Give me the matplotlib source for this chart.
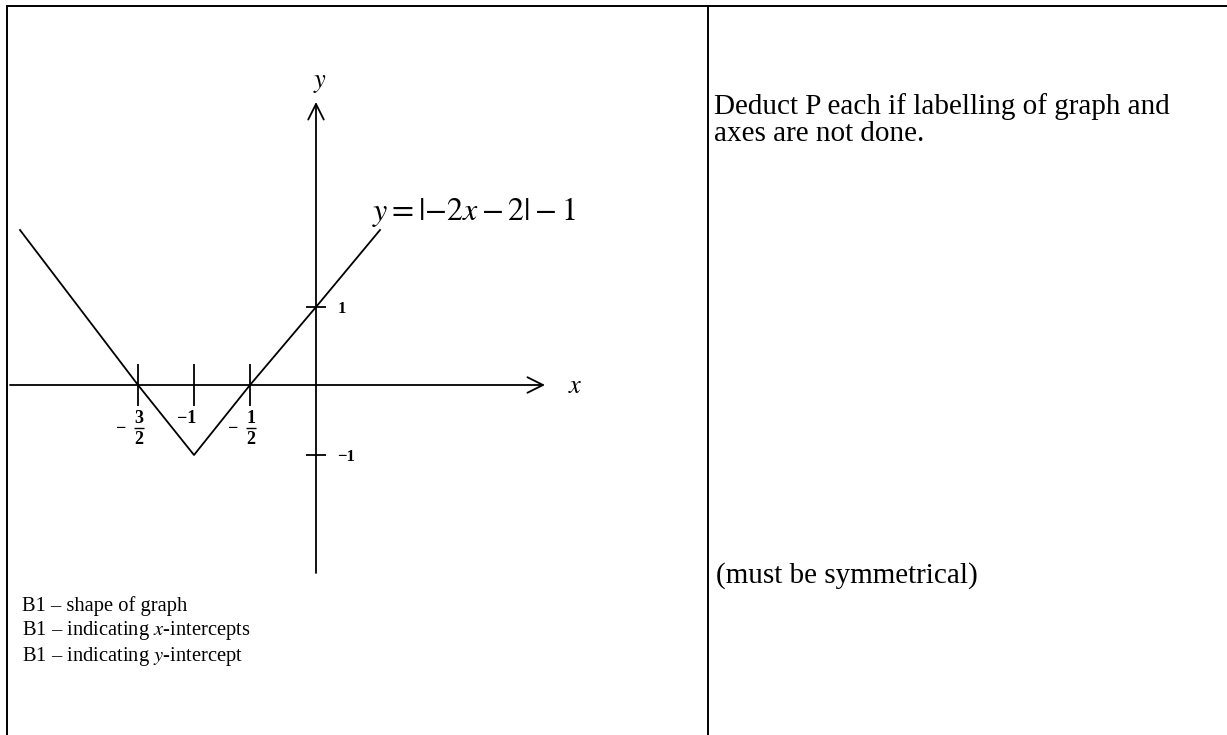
import numpy as np
import matplotlib
matplotlib.use("Agg")
import matplotlib.pyplot as plt
from matplotlib.transforms import offset_copy

plt.rcParams["font.family"] = ["Liberation Serif", "DejaVu Serif"]
plt.rcParams["mathtext.fontset"] = "stix"

# graph of y = |-2x - 2| - 1 (sketch, key points)
curve_x = [-2.5, -1.5, -1.0, -0.5, 0.0, 0.5]
curve_y = [2.0, 0.0, -1.0, 0.0, 1.0, 2.0]
x_ticks = [-1.5, -1.0, -0.5]
x_tick_labels = [("3", "2"), "\u22121", ("1", "2")]   # tuples are -num/den
y_ticks = [1.0, -1.0]
y_tick_labels = ["1", "\u22121"]
equation = r"$y = |{-2x} - 2| - 1$"

marks_left = ["B1 \u2013 shape of graph",
              "B1 \u2013 indicating $x$-intercepts",
              "B1 \u2013 indicating $y$-intercept"]
notes_right = ["Deduct P each if labelling of graph and",
               "axes are not done."]
note_sym = "(must be symmetrical)"

# the sketch is not drawn to scale: piecewise linear map from values to pixels
xk = [-50, -2.5, -1.5, -1.0, -0.5, 0.0, 0.5, 50]
xp = [20 - 47.5 * 118, 20, 138, 194, 250, 316, 380, 380 + 49.5 * 128]
yk = [-50, -1.0, 0.0, 1.0, 2.0, 50]
yp = [280 - 49 * 70, 280, 350, 428, 505, 505 + 48 * 77]


def fx(v):
    return np.interp(v, xk, xp)


def ix(p):
    return np.interp(p, xp, xk)


def fy(v):
    return np.interp(v, yk, yp)


def iy(p):
    return np.interp(p, yp, yk)


fig = plt.figure(figsize=(12.27, 7.35), dpi=100)

# table and text, pixel coordinates
bg = fig.add_axes([0, 0, 1, 1])
bg.set_xlim(0, 1227)
bg.set_ylim(735, 0)
bg.axis("off")
bg.plot([7, 1227], [6, 6], color="black", lw=1.4)
bg.plot([7, 7], [6, 735], color="black", lw=1.4)
bg.plot([708, 708], [6, 735], color="black", lw=1.4)

for i, s in enumerate(marks_left):
    bg.text(22, 606 + i * 25, s, fontsize=14.8, va="center", ha="left")
for i, s in enumerate(notes_right):
    bg.text(714, 107 + i * 27, s, fontsize=21, va="center", ha="left")
bg.text(716, 576, note_sym, fontsize=21, va="center", ha="left")

# graph
ax = fig.add_axes([0, 0, 1, 1])
ax.patch.set_visible(False)
ax.set_xscale("function", functions=(fx, ix))
ax.set_yscale("function", functions=(fy, iy))
ax.set_xlim(ix(0), ix(1227))
ax.set_ylim(iy(0), iy(735))
ax.axis("off")

x_lo, x_hi = ix(10), ix(545)
y_lo, y_hi = iy(735 - 573), iy(735 - 102)
ax.annotate("", xy=(x_hi, 0), xytext=(x_lo, 0),
            arrowprops=dict(arrowstyle="->", lw=1.3, mutation_scale=28,
                            shrinkA=0, shrinkB=0))
ax.annotate("", xy=(0, y_hi), xytext=(0, y_lo),
            arrowprops=dict(arrowstyle="->", lw=1.3, mutation_scale=28,
                            shrinkA=0, shrinkB=0))
ax.annotate(r"$x$", xy=(x_hi, 0), xytext=(30, -2), textcoords="offset pixels",
            fontsize=19, ha="center", va="center")
ax.annotate(r"$y$", xy=(0, y_hi), xytext=(4, 18), textcoords="offset pixels",
            fontsize=19, ha="center", va="center")

ax.plot(curve_x, curve_y, color="black", lw=1.3)

ax.plot(x_ticks, np.zeros(len(x_ticks)), ls="none", marker="|",
        markersize=30, markeredgewidth=1.3, color="black")
ax.plot(np.zeros(len(y_ticks)), y_ticks, ls="none", marker="_",
        markersize=14, markeredgewidth=1.3, color="black")

lab_kw = dict(textcoords="offset pixels", fontsize=13, ha="center",
              va="center", fontweight="bold")
for xv, lab in zip(x_ticks, x_tick_labels):
    if isinstance(lab, tuple):
        num, den = lab
        ax.annotate("\u2212", xy=(xv, 0), xytext=(-17, -43), **lab_kw)
        ax.annotate(num, xy=(xv, 0), xytext=(1, -33), **lab_kw)
        ax.annotate(den, xy=(xv, 0), xytext=(1, -54), **lab_kw)
        bar_tr = offset_copy(ax.transData, fig=fig, x=1, y=-43, units="dots")
        ax.plot([xv], [0], marker="_", markersize=7, markeredgewidth=1.0,
                color="black", transform=bar_tr)
    else:
        ax.annotate(lab, xy=(xv, 0), xytext=(-7, -33), **lab_kw)
for yv, lab in zip(y_ticks, y_tick_labels):
    ax.annotate(lab, xy=(0, yv), xytext=(26 if yv > 0 else 30, -2),
                textcoords="offset pixels", fontsize=12, ha="center",
                va="center", fontweight="bold")

ax.annotate(equation, xy=(curve_x[-1], curve_y[-1]), xytext=(-8, 18),
            textcoords="offset pixels", fontsize=23, ha="left", va="center")

fig.savefig("out.png", dpi=100)
